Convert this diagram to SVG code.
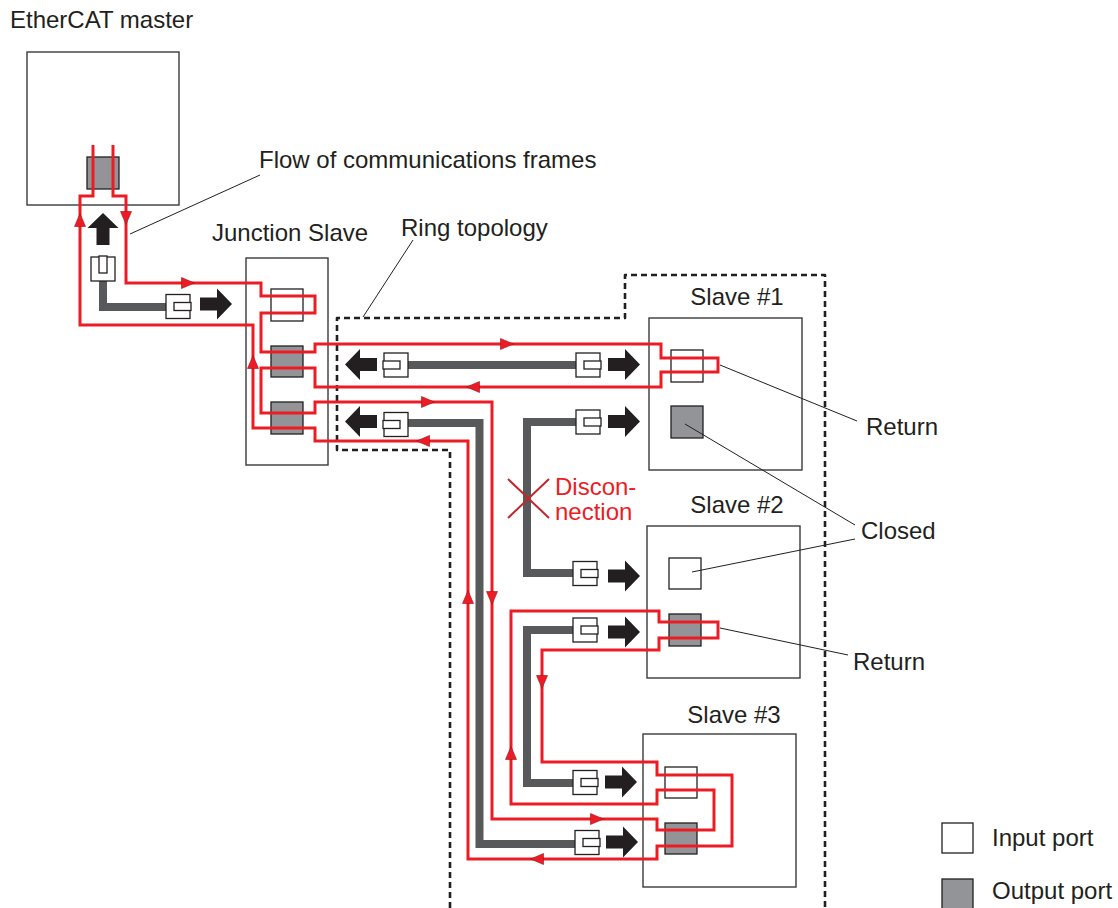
<svg xmlns="http://www.w3.org/2000/svg" xmlns:xlink="http://www.w3.org/1999/xlink" width="1118" height="908" viewBox="0 0 1118 908">
<style>
.box{fill:#fff;stroke:#3a3a3a;stroke-width:1.4}
.pin{fill:#fff;stroke:#231f20;stroke-width:1.3}
.pout{fill:#929497;stroke:#231f20;stroke-width:1.3}
.cable{fill:none;stroke:#58595b;stroke-width:8}
.con{fill:#fff;stroke:#231f20;stroke-width:1.3}
.blk{fill:#231f20}
.red{fill:none;stroke:#ed1c24;stroke-width:3}
.rh{fill:#ed1c24;stroke:#a01018;stroke-width:0.6}
.lead{fill:none;stroke:#231f20;stroke-width:1}
.ring{fill:none;stroke:#231f20;stroke-width:2.6;stroke-dasharray:6 4;stroke-linejoin:round}
.t{font-family:"Liberation Sans",Arial,sans-serif;font-size:24px;fill:#231f20}
.tr{font-family:"Liberation Sans",Arial,sans-serif;font-size:24px;fill:#ed1c24}
</style>
<defs>
<path id="barrow" d="M0,-6.5 H17 V-15.5 L32,0 L17,15.5 V6.5 H0 Z"/>
<g id="conn"><rect class="con" x="0" y="-12" width="24" height="24"/><rect class="con" x="8" y="-4" width="17" height="8"/></g>
<path id="ra" d="M-6.5,-5.5 L6.5,0 L-6.5,5.5 Z"/>
</defs>
<rect width="1118" height="908" fill="#fff"/>

<g id="ring">
<path class="ring" d="M450,908 V450 H337 V318 H625 V275 H825 V908"/>
</g>

<g id="master">
<rect class="box" x="27" y="52" width="152" height="153"/>
<rect class="pout" x="87" y="157" width="32" height="32"/>
<text class="t" x="10" y="28">EtherCAT master</text>
</g>

<g id="junction">
<rect class="box" x="246" y="258" width="82" height="207"/>
<rect class="pin" x="271" y="289" width="32" height="32"/>
<rect class="pout" x="271" y="346" width="32" height="31"/>
<rect class="pout" x="271" y="402" width="32" height="32"/>
<text class="t" x="212" y="241">Junction Slave</text>
</g>

<g id="slave1">
<rect class="box" x="649" y="318" width="153" height="152"/>
<rect class="pin" x="671" y="350" width="32" height="32"/>
<rect class="pout" x="671" y="406" width="32" height="32"/>
<text class="t" x="737" y="305" text-anchor="middle">Slave #1</text>
</g>

<g id="slave2">
<rect class="box" x="647" y="526" width="153" height="152"/>
<rect class="pin" x="669" y="558" width="32" height="31"/>
<rect class="pout" x="669" y="614" width="32" height="32"/>
<text class="t" x="737" y="513" text-anchor="middle">Slave #2</text>
</g>

<g id="slave3">
<rect class="box" x="643" y="734" width="153" height="153"/>
<rect class="pin" x="665" y="767" width="32" height="31"/>
<rect class="pout" x="665" y="823" width="32" height="31"/>
<text class="t" x="734" y="723" text-anchor="middle">Slave #3</text>
</g>

<g id="connectors">
<path class="cable" d="M103,281 V307 H166"/>
<path class="cable" d="M408,365 H576"/>
<path class="cable" d="M408,423 H479.5 V844 H575"/>
<path class="cable" d="M576,422 H527 V573 H573"/>
<path class="cable" d="M573,630 H527 V783 H573"/>

<use xlink:href="#conn" transform="translate(103,281) rotate(-90)"/>
<use xlink:href="#conn" transform="translate(166,306.5)"/>
<use xlink:href="#conn" transform="translate(408,365) rotate(180)"/>
<use xlink:href="#conn" transform="translate(408,424.5) rotate(180)"/>
<use xlink:href="#conn" transform="translate(576,365)"/>
<use xlink:href="#conn" transform="translate(576,422)"/>
<use xlink:href="#conn" transform="translate(573,573.5)"/>
<use xlink:href="#conn" transform="translate(573,630)"/>
<use xlink:href="#conn" transform="translate(573,782.5)"/>
<use xlink:href="#conn" transform="translate(575,842.5)"/>

<use xlink:href="#barrow" class="blk" transform="translate(103,245) rotate(-90)"/>
<use xlink:href="#barrow" class="blk" transform="translate(200,304)"/>
<use xlink:href="#barrow" class="blk" transform="translate(377,364.5) rotate(180)"/>
<use xlink:href="#barrow" class="blk" transform="translate(377,421.5) rotate(180)"/>
<use xlink:href="#barrow" class="blk" transform="translate(608,364.5)"/>
<use xlink:href="#barrow" class="blk" transform="translate(608,421.5)"/>
<use xlink:href="#barrow" class="blk" transform="translate(608,576)"/>
<use xlink:href="#barrow" class="blk" transform="translate(608,632)"/>
<use xlink:href="#barrow" class="blk" transform="translate(605,782)"/>
<use xlink:href="#barrow" class="blk" transform="translate(606,842)"/>

<path class="red" d="M93,145 V196 H80 V325 H253 V428 H315 V441 H468 V859 H657 V846 H732 V775 H657 V762 H542 V650 H659 V638 H718 V622 H659 V611 H511 V804 H657 V790 H714 V830 H657 V819 H492 V402 H315 V413 H261 V368 H315 V387 H661 V372 H718 V358 H661 V344 H315 V352 H261 V313 H315 V296 H261 V283 H126 V196 H113 V145"/>

<use xlink:href="#ra" class="rh" transform="translate(80,220) rotate(-90)"/>
<use xlink:href="#ra" class="rh" transform="translate(126,218) rotate(90)"/>
<use xlink:href="#ra" class="rh" transform="translate(188,283)"/>
<use xlink:href="#ra" class="rh" transform="translate(253,362) rotate(-90)"/>
<use xlink:href="#ra" class="rh" transform="translate(507,344)"/>
<use xlink:href="#ra" class="rh" transform="translate(473,387) rotate(180)"/>
<use xlink:href="#ra" class="rh" transform="translate(428,402)"/>
<use xlink:href="#ra" class="rh" transform="translate(423,441) rotate(180)"/>
<use xlink:href="#ra" class="rh" transform="translate(492,598) rotate(90)"/>
<use xlink:href="#ra" class="rh" transform="translate(468,597) rotate(-90)"/>
<use xlink:href="#ra" class="rh" transform="translate(511,753) rotate(-90)"/>
<use xlink:href="#ra" class="rh" transform="translate(542,682) rotate(90)"/>
<use xlink:href="#ra" class="rh" transform="translate(597,819)"/>
<use xlink:href="#ra" class="rh" transform="translate(537,859) rotate(180)"/>

<path class="lead" d="M130,234 L260,175"/>
<path class="lead" d="M363,317 L413,240"/>
<path class="lead" d="M720,365 L857,421"/>
<path class="lead" d="M685,424 L855,525"/>
<path class="lead" d="M692,572 L855,539"/>
<path class="lead" d="M720,628 L848,655"/>
</g>

<g id="disconnection">
<path d="M508,479 L549,518 M549,479 L508,518" stroke="#c1272d" stroke-width="2" fill="none"/>
<text class="tr" x="555" y="495">Discon-</text>
<text class="tr" x="555" y="520">nection</text>
</g>

<g id="labels">
<text class="t" x="259" y="168">Flow of communications frames</text>
<text class="t" x="401" y="236">Ring topology</text>
<text class="t" x="866" y="435">Return</text>
<text class="t" x="861" y="539">Closed</text>
<text class="t" x="853" y="670">Return</text>
</g>

<g id="legend">
<rect class="pin" x="942" y="823" width="31" height="30"/>
<text class="t" x="992" y="846">Input port</text>
<rect class="pout" x="942" y="879" width="31" height="31"/>
<text class="t" x="992" y="899">Output port</text>
</g>
</svg>
